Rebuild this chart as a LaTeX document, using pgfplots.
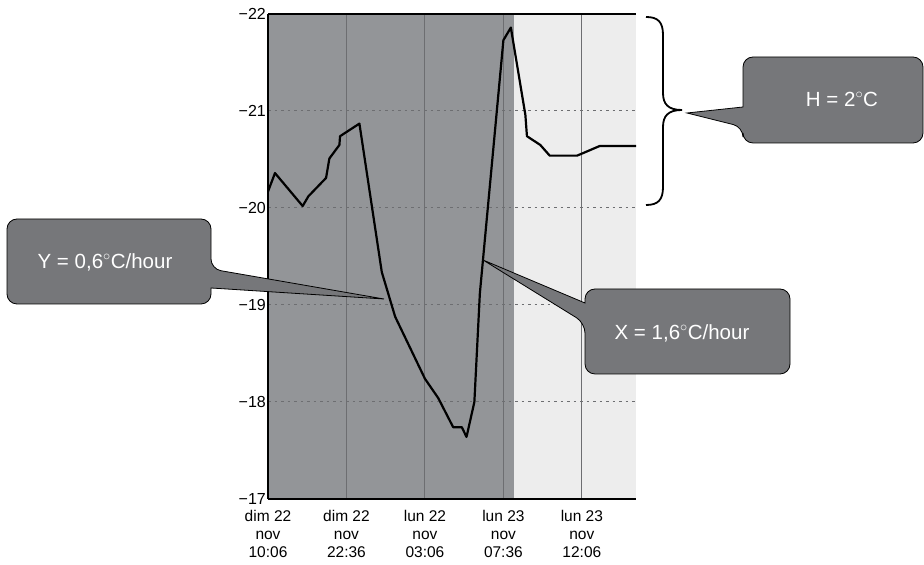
\documentclass[border=0pt]{standalone}
\usepackage{fontspec}
\setmainfont{Liberation Sans}
\usepackage{pgfplots}
\pgfplotsset{compat=1.18}

\definecolor{night}{HTML}{939598}
\definecolor{day}{HTML}{EDEDED}
\definecolor{gridgray}{HTML}{6D6E71}
\definecolor{bubble}{HTML}{76777A}

\begin{document}
\begin{tikzpicture}
\begin{axis}[
  set layers,
  at={(268bp,66bp)}, anchor=south west,
  scale only axis, width=368bp, height=485bp,
  xmin=0, xmax=4.69, ymin=-22, ymax=-17,
  y dir=reverse,
  axis y line*=left,
  axis line style={line width=1.5bp, black},
  xtick={0,1,2,3,4},
  xticklabels={{dim 22\\nov\\10:06},{dim 22\\nov\\22:36},{lun 22\\nov\\03:06},{lun 23\\nov\\07:36},{lun 23\\nov\\12:06}},
  ytick={-22,-21,-20,-19,-18,-17},
  yticklabels={−22,−21,−20,−19,−18,−17},
  major tick length=0pt,
  xticklabel style={align=center, font=\fontsize{15.5bp}{18bp}\selectfont, inner sep=2bp, yshift=-9bp},
  yticklabel style={font=\fontsize{16bp}{18bp}\selectfont, inner sep=2bp},
  xmajorgrids, ymajorgrids,
  x grid style={gridgray, line width=1bp, solid},
  y grid style={gridgray, line width=1bp, dash pattern=on 2.5bp off 4bp},
]
% night and day shading
\addplot[on layer=axis background, draw=none, fill=night]
  coordinates {(0,-22) (3.14,-22) (3.14,-17) (0,-17)} -- cycle;
\addplot[on layer=axis background, draw=none, fill=day]
  coordinates {(3.14,-22) (4.69,-22) (4.69,-17) (3.14,-17)} -- cycle;
% temperature record
\addplot[black, line width=2.2bp, line join=round, mark=none] coordinates {
  (0,-20.17) (0.089,-20.36) (0.442,-20.02) (0.514,-20.12) (0.74,-20.31)
  (0.782,-20.51) (0.91,-20.65) (0.918,-20.74) (1.165,-20.87) (1.45,-19.34)
  (1.62,-18.88) (2.0,-18.24) (2.17,-18.04) (2.36,-17.74) (2.47,-17.74)
  (2.53,-17.64) (2.63,-18.0) (2.70,-19.12) (3.0,-21.73) (3.095,-21.86)
  (3.28,-20.96) (3.30,-20.74) (3.47,-20.65) (3.59,-20.54) (3.94,-20.54)
  (4.23,-20.64) (4.69,-20.64)
};
\end{axis}

\begin{scope}[x=1bp, y=-1bp, shift={(0bp,565bp)}]
  % brace marking the amplitude
  \draw[line width=1.8bp, black]
    (646,17) .. controls (658,17) and (663,22) .. (663,35) -- (663,93)
    .. controls (663,104) and (668,110) .. (682,110)
    .. controls (668,110) and (663,116) .. (663,127) -- (663,187)
    .. controls (663,200) and (658,205) .. (646,205);
  % callouts
  \filldraw[fill=bubble, draw=black, line width=0.8bp, rounded corners=10bp]
    (743,57) -- (923,57) -- (923,143) -- (743,143) -- (743,127)
    [sharp corners] -- (687,113) -- (743,107) [rounded corners=10bp] -- cycle;
  \node[text=white, font=\fontsize{20.5bp}{22bp}\selectfont] at (842,99) {H = 2$^\circ$C};

  \filldraw[fill=bubble, draw=black, line width=0.8bp, rounded corners=10bp]
    (7,219) -- (211,219) -- (211,269)
    [sharp corners] -- (384,299) -- (211,288) [rounded corners=10bp]
    -- (211,304) -- (7,304) -- cycle;
  \node[text=white, font=\fontsize{20.5bp}{22bp}\selectfont] at (105,262) {Y = 0,6$^\circ$C/hour};

  \filldraw[fill=bubble, draw=black, line width=0.8bp, rounded corners=10bp]
    (585,289) -- (790,289) -- (790,374) -- (585,374) -- (585,323)
    [sharp corners] -- (483,260) -- (585,303) [rounded corners=10bp] -- cycle;
  \node[text=white, font=\fontsize{20.5bp}{22bp}\selectfont] at (682,333) {X = 1,6$^\circ$C/hour};

  % picture frame
  \path (0,0) rectangle (924,565);
\end{scope}
\end{tikzpicture}
\end{document}
